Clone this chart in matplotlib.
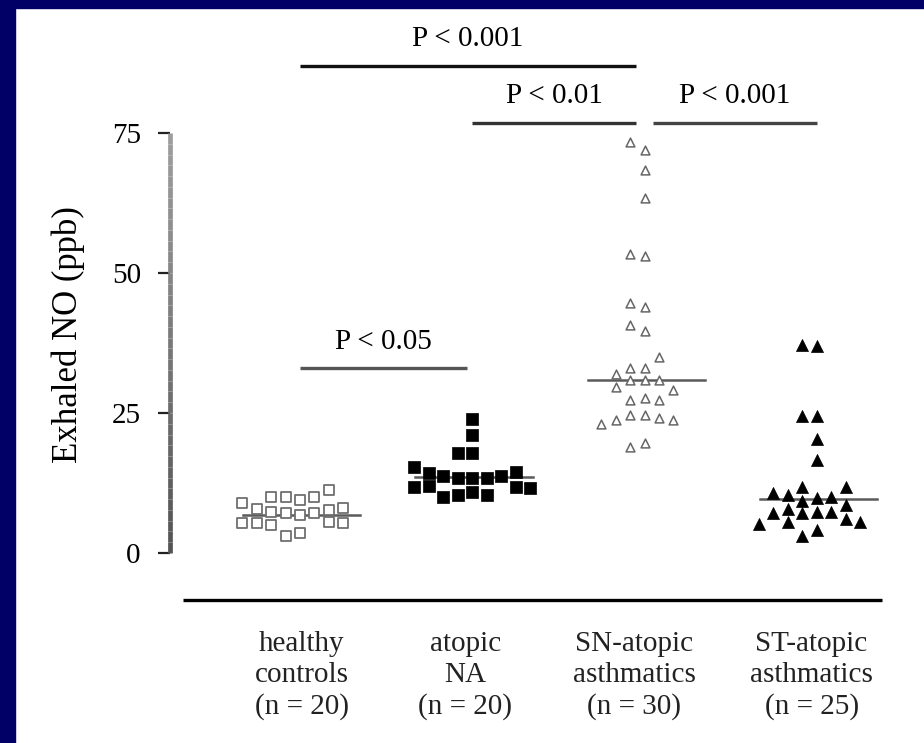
import numpy as np
import matplotlib
matplotlib.use("Agg")
import matplotlib.pyplot as plt
from matplotlib.collections import LineCollection
from matplotlib.patches import Rectangle


# data (exhaled NO, ppb)
healthy = [7.9, 11.2, 10.0, 9.5, 8.9, 10.0, 10.0, 7.3, 6.8, 7.1,
           7.1, 7.7, 8.0, 5.4, 5.0, 5.4, 5.5, 5.4, 3.6, 3.0]
atopic_na = [23.9, 21.0, 17.9, 17.9, 15.4, 13.8, 14.5, 14.3, 13.4, 13.4,
             13.4, 13.8, 12.0, 11.6, 11.8, 10.4, 11.8, 10.0, 10.4, 10.9]
sn_atopic = [73.4, 72.0, 68.4, 63.4, 53.4, 53.0, 44.6, 43.9, 40.7, 39.6,
             35.0, 33.0, 33.0, 32.0, 29.6, 30.9, 30.9, 30.9, 29.1, 27.7,
             27.3, 27.3, 24.6, 24.1, 23.8, 23.0, 23.8, 24.6, 18.9, 19.6]
st_atopic = [37.1, 37.0, 24.5, 24.5, 20.4, 16.6, 11.8, 11.8, 10.4, 10.0,
             10.7, 9.3, 9.8, 8.6, 7.3, 7.1, 7.1, 7.3, 7.9, 5.5,
             5.5, 6.0, 5.2, 4.1, 3.0]
medians = [6.8, 13.6, 30.9, 9.6]

groups = [healthy, atopic_na, sn_atopic, st_atopic]
labels = ["healthy\ncontrols\n(n = 20)", "atopic\nNA\n(n = 20)",
          "SN-atopic\nasthmatics\n(n = 30)", "ST-atopic\nasthmatics\n(n = 25)"]

# significance bars: (from group, to group, height, text)
sig_bars = [(1, 2.95, 87.0, "P < 0.001"),
            (2, 2.95, 76.8, "P < 0.01"),
            (3.05, 4, 76.8, "P < 0.001"),
            (1, 1.97, 33.0, "P < 0.05")]
bar_colors = ["#111111", "#333333", "#444444", "#555555"]


def swarm_offsets(values, center, gap, step=0.084):
    # simple beeswarm: stack points in columns, median outwards
    values = np.asarray(values, dtype=float)
    order = np.argsort(np.abs(values - center))
    cols = np.zeros(len(values))
    placed = []
    for i in order:
        for k in [0, -1, 1, -2, 2, -3, 3, -4, 4, -5, 5]:
            ok = True
            for c, v in placed:
                if c == k and abs(v - values[i]) < gap:
                    ok = False
                    break
            if ok:
                cols[i] = k
                placed.append((k, values[i]))
                break
    return cols * step


serif = ["Liberation Serif", "DejaVu Serif"]
plt.rcParams["font.family"] = serif

fig = plt.figure(figsize=(9.24, 7.43), dpi=100)
ax = fig.add_axes([0.184, 0.2557, 0.779, 0.5653])

styles = [
    dict(marker="s", s=46, facecolors="white", edgecolors="#6f6f6f", linewidths=1.3),
    dict(marker="s", s=85, facecolors="black", edgecolors="black", linewidths=0.5),
    dict(marker="^", s=40, facecolors="white", edgecolors="#666666", linewidths=1.1),
    dict(marker="^", s=75, facecolors="black", edgecolors="black", linewidths=0.5),
]
gaps = [2.2, 2.3, 2.1, 2.1]

for i, vals in enumerate(groups):
    x0 = i + 1
    dx = swarm_offsets(vals, medians[i], gaps[i])
    ax.scatter(x0 + dx, vals, clip_on=False, zorder=3, **styles[i])
    ax.plot([x0 - 0.33, x0 + 0.35], [medians[i], medians[i]],
            color="#5a5a5a", lw=1.8, zorder=2, clip_on=False)

for (x1, x2, h, txt), col in zip(sig_bars, bar_colors):
    ax.plot([x1, x2], [h, h], color=col, lw=2.4, clip_on=False,
            solid_capstyle="butt")
    ax.text((x1 + x2) / 2, h + 2.4, txt, ha="center", va="bottom",
            fontsize=21, clip_on=False)

# category labels under the bottom rule
label_x = [1.01, 1.96, 2.94, 3.97]
for lx, lab in zip(label_x, labels):
    ax.text(lx, -13.9, lab, ha="center", va="top", fontsize=21,
            linespacing=1.25, color="#222222")

# bottom rule
ax.plot([0.321, 4.378], [-8.4, -8.4], color="black", lw=2.4, clip_on=False,
        solid_capstyle="butt")

ax.set_xlim(0.2455, 4.424)
ax.set_ylim(0, 75)
for side in ["top", "right", "bottom", "left"]:
    ax.spines[side].set_visible(False)
ax.set_xticks([])
ax.set_yticks([0, 25, 50, 75])
ax.tick_params(axis="y", length=9, width=1.6, pad=12, labelsize=21,
               color="#222222")

# grey y axis line, lighter at the top
ys = np.linspace(0, 75, 40)
segs = [[(0.2455, ys[j]), (0.2455, ys[j + 1])] for j in range(len(ys) - 1)]
shade = np.linspace(0.33, 0.62, len(segs))
lc = LineCollection(segs, colors=[(g, g, g) for g in shade], linewidths=3.4,
                    clip_on=False)
ax.add_collection(lc)

ax.set_ylabel("Exhaled NO (ppb)", fontsize=25)
ax.yaxis.set_label_coords(-0.118, 0.52)

# navy frame on the left and top
fig.patches.append(Rectangle((0, 0), 15 / 924, 1, transform=fig.transFigure,
                             color="#000066", zorder=-1))
fig.patches.append(Rectangle((0, 1 - 8 / 743), 1, 8 / 743, transform=fig.transFigure,
                             color="#000066", zorder=-1))

fig.savefig("out.png", dpi=100)
